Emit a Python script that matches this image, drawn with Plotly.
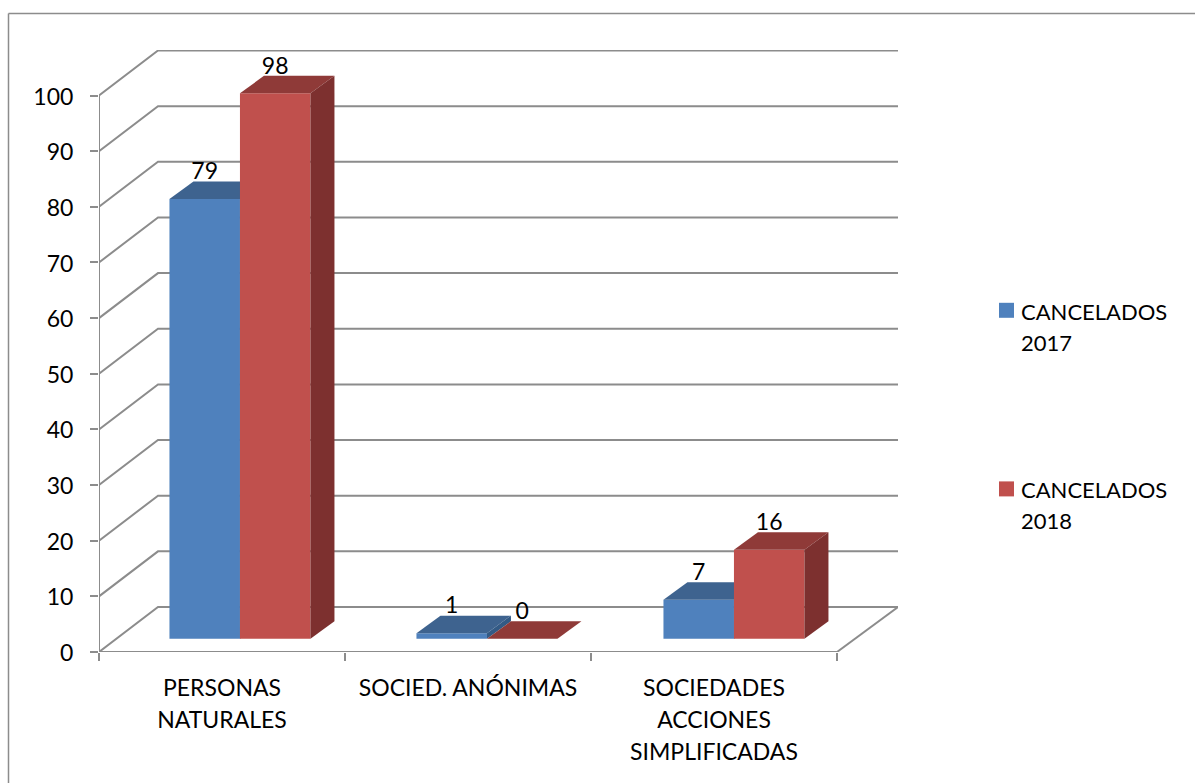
import plotly.graph_objects as go

# ---- data ----
categories = ["PERSONAS<br>NATURALES", "SOCIED. ANÓNIMAS", "SOCIEDADES<br>ACCIONES<br>SIMPLIFICADAS"]
series_names = ["CANCELADOS<br>2017", "CANCELADOS<br>2018"]
values_2017 = [79, 1, 7]
values_2018 = [98, 0, 16]
y_ticks = list(range(0, 101, 10))

# ---- styles / geometry ----
W, H = 1195, 783
L, R, T, B = 99, 898, 50, 652
FONT = "Lato"
GRID = "#8c8c8c"
BLUE, BLUE_TOP, BLUE_SIDE = "#4F81BD", "#3E638F", "#335A85"
RED, RED_TOP, RED_SIDE = "#C0504D", "#8F3A38", "#7D302F"

n = len(categories)
PX_X = (837 - 99) / n          # pixels per category
PX_Y = 5.565                   # pixels per value unit
X_MAX = (R - L) / PX_X
Y_MAX = (B - T) / PX_Y
WALL_DX, WALL_DY = 59 / PX_X, 45 / PX_Y   # depth of the floor
BAR_DX, BAR_DY = 24 / PX_X, 17.5 / PX_Y   # depth of a column
BAR_W = 70.5 / PX_X
BASE = 13.3 / PX_Y             # front of columns sits in from the front edge
SEAM0 = 0.573                  # seam of the two columns within the first category
STEP = 247 / PX_X              # distance between column pairs


def sized(text, size):
    return "<br>".join(f'<span style="font-size:{size}px">{p}</span>' for p in text.split("<br>"))


def seam(i):
    return SEAM0 + i * STEP


fig = go.Figure()

# grid: left wall diagonals + back wall
gx, gy = [], []
for v in y_ticks:
    gx += [0, WALL_DX, X_MAX, None]
    gy += [v, v + WALL_DY, v + WALL_DY, None]
gx += [n, X_MAX]
gy += [0, WALL_DY]
gx += [None, 0, 0, None, 0, n]
gy += [None, 0, y_ticks[-1], None, 0, 0]
fig.add_trace(go.Scatter(x=gx, y=gy, mode="lines", line=dict(color=GRID, width=2),
                         showlegend=False, hoverinfo="skip", cliponaxis=False))


def add_columns(values, sign, front, top, side, xa, ya):
    centers = [seam(i) + sign * BAR_W / 2 for i in range(n)]
    fig.add_trace(go.Bar(x=centers, y=values, base=[BASE] * n, width=BAR_W,
                         marker=dict(color=front, line=dict(width=0)),
                         xaxis=xa, yaxis=ya, showlegend=False, hoverinfo="skip"))
    for c, v in zip(centers, values):
        x0, x1 = c - BAR_W / 2, c + BAR_W / 2
        y1 = BASE + v
        fig.add_trace(go.Scatter(
            x=[x0, x1, x1 + BAR_DX, x0 + BAR_DX, x0], y=[y1, y1, y1 + BAR_DY, y1 + BAR_DY, y1],
            fill="toself", fillcolor=top, mode="lines", line=dict(width=0),
            xaxis=xa, yaxis=ya, showlegend=False, hoverinfo="skip"))
        fig.add_trace(go.Scatter(
            x=[x1, x1 + BAR_DX, x1 + BAR_DX, x1, x1],
            y=[BASE, BASE + BAR_DY, y1 + BAR_DY, y1, BASE],
            fill="toself", fillcolor=side, mode="lines", line=dict(width=0),
            xaxis=xa, yaxis=ya, showlegend=False, hoverinfo="skip"))


add_columns(values_2017, -1, BLUE, BLUE_TOP, BLUE_SIDE, "x2", "y2")
add_columns(values_2018, 1, RED, RED_TOP, RED_SIDE, "x3", "y3")

# data labels
for vals, sign in ((values_2017, -1), (values_2018, 1)):
    fig.add_trace(go.Scatter(
        x=[seam(i) + sign * BAR_W / 2 for i in range(n)],
        y=[BASE + v + BAR_DY + 8 / PX_Y for v in vals],
        text=[str(v) for v in vals], mode="text", textposition="middle center",
        textfont=dict(family=FONT, size=23, color="black"),
        xaxis="x3", yaxis="y3", showlegend=False, hoverinfo="skip", cliponaxis=False))

# legend entries (leading blank line keeps the swatch level with the first text line)
for name, col in zip(series_names, (BLUE, RED)):
    fig.add_trace(go.Scatter(x=[None], y=[None], mode="markers",
                             name="&nbsp;<br>" + sized(name, 22), legendgroup=name,
                             marker=dict(symbol="square", size=15, color=col, angle=90, standoff=5.5),
                             xaxis="x3", yaxis="y3"))

overlay = dict(range=[0, X_MAX], visible=False, fixedrange=True)
overlay_y = dict(range=[0, Y_MAX], visible=False, fixedrange=True)


def xp(px):
    return (px - L) / (R - L)


def yp(py):
    return (B - py) / (B - T)


fig.update_layout(
    width=W, height=H, autosize=False,
    margin=dict(l=L, r=W - R, t=T, b=H - B, pad=0, autoexpand=False),
    paper_bgcolor="white", plot_bgcolor="rgba(0,0,0,0)",
    font=dict(family=FONT, size=22, color="black"),
    barmode="overlay",
    xaxis=dict(range=[0, X_MAX], tickmode="array", tickvals=[i + 0.5 for i in range(n)],
               ticktext=[sized(c, 23) for c in categories], ticks="", showgrid=False, zeroline=False,
               showline=False, tickangle=0, fixedrange=True, tickfont=dict(family=FONT, size=24.8),
               ticklabelstandoff=18,
               minor=dict(tickmode="array", tickvals=list(range(n + 1)), ticks="outside", ticklen=8,
                          tickwidth=2, tickcolor=GRID, showgrid=False)),
    yaxis=dict(range=[0, Y_MAX], tickmode="array", tickvals=y_ticks, ticks="outside", ticklen=8,
               tickwidth=2, tickcolor=GRID, showgrid=False, zeroline=False, showline=False,
               fixedrange=True, tickfont=dict(family=FONT, size=23), ticklabelstandoff=12,
               ticklabelshift=1),
    xaxis2=dict(overlay, overlaying="x", anchor="y2"),
    yaxis2=dict(overlay_y, overlaying="y", anchor="x2"),
    xaxis3=dict(overlay, overlaying="x", anchor="y3"),
    yaxis3=dict(overlay_y, overlaying="y", anchor="x3"),
    legend=dict(x=xp(981), xanchor="left", y=yp(257), yanchor="top", tracegroupgap=82,
                font=dict(family=FONT, size=24), bgcolor="rgba(0,0,0,0)", borderwidth=0,
                itemclick=False, itemdoubleclick=False),
    shapes=[
        dict(type="line", xref="paper", yref="paper", x0=xp(8.5), x1=xp(8.5), y0=yp(H), y1=yp(13.5),
             line=dict(color=GRID, width=1.5)),
        dict(type="line", xref="paper", yref="paper", x0=xp(8.5), x1=xp(W), y0=yp(13.5), y1=yp(13.5),
             line=dict(color=GRID, width=1.5)),
    ],
)

fig.write_html("out.html", config={"displayModeBar": False},
               post_script="document.body.style.margin='0';document.body.style.overflow='hidden';")
